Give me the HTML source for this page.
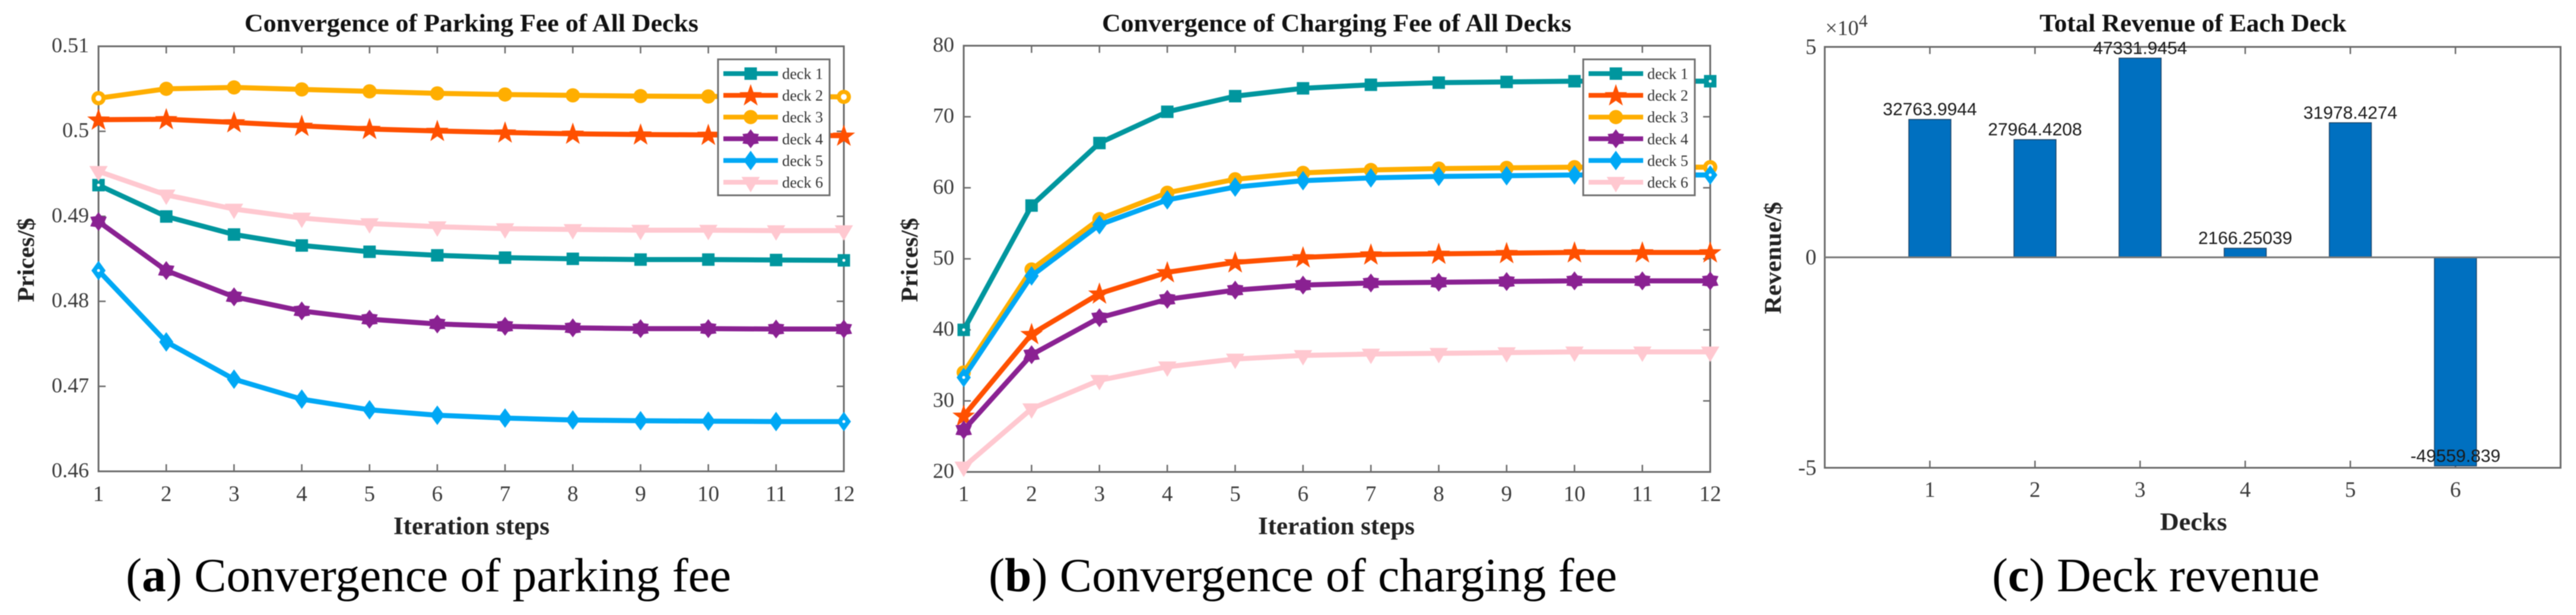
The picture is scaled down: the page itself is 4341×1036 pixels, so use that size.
<!DOCTYPE html>
<html lang="en">
<head>
<meta charset="utf-8">
<title>Convergence of parking fee, charging fee and deck revenue</title>
<style>
html,body{margin:0;padding:0;background:#fff;}
svg{display:block;filter:blur(0.7px);}
text{font-family:"Liberation Serif",serif;}
</style>
</head>
<body>
<svg id="figure" xmlns="http://www.w3.org/2000/svg" width="4341" height="1036" viewBox="0 0 4341 1036">
<rect x="0" y="0" width="4341" height="1036" fill="#ffffff"/>
</svg>
<script>
/* ---------- shared categories ---------- */
const iterationSteps = [1,2,3,4,5,6,7,8,9,10,11,12];
const deckNames = ['deck 1','deck 2','deck 3','deck 4','deck 5','deck 6'];

/* ---------- panel (a) parking fee ---------- */
const parkingDeck1 = [0.49367,0.48998,0.48786,0.48657,0.48583,0.48541,0.48514,0.48500,0.48491,0.48491,0.48486,0.48482];
const parkingDeck2 = [0.50137,0.50142,0.50105,0.50064,0.50027,0.50004,0.49985,0.49971,0.49962,0.49958,0.49953,0.49948];
const parkingDeck3 = [0.50390,0.50500,0.50516,0.50493,0.50470,0.50446,0.50433,0.50423,0.50414,0.50410,0.50410,0.50405];
const parkingDeck4 = [0.48938,0.48362,0.48053,0.47887,0.47790,0.47734,0.47707,0.47688,0.47679,0.47679,0.47674,0.47674];
const parkingDeck5 = [0.48362,0.47522,0.47084,0.46849,0.46724,0.46660,0.46627,0.46604,0.46595,0.46590,0.46586,0.46586];
const parkingDeck6 = [0.49529,0.49252,0.49086,0.48980,0.48915,0.48878,0.48855,0.48846,0.48837,0.48837,0.48832,0.48832];
const parkingTicks = [0.46,0.47,0.48,0.49,0.5,0.51];
const parkingTickLabels = ['0.46','0.47','0.48','0.49','0.5','0.51'];

/* ---------- panel (b) charging fee ---------- */
const chargingDeck1 = [40.0,57.5,66.3,70.7,72.9,74.0,74.5,74.8,74.9,75.0,75.0,75.0];
const chargingDeck2 = [27.9,39.4,45.1,48.1,49.5,50.2,50.6,50.7,50.8,50.9,50.9,50.9];
const chargingDeck3 = [34.0,48.5,55.6,59.3,61.2,62.1,62.5,62.7,62.8,62.9,62.9,62.9];
const chargingDeck4 = [25.9,36.5,41.7,44.3,45.6,46.3,46.6,46.7,46.8,46.9,46.9,46.9];
const chargingDeck5 = [33.3,47.6,54.8,58.3,60.1,61.0,61.4,61.6,61.7,61.8,61.8,61.8];
const chargingDeck6 = [20.7,28.9,32.9,34.8,35.9,36.4,36.6,36.7,36.8,36.9,36.9,36.9];
const chargingTicks = [20,30,40,50,60,70,80];
const chargingTickLabels = ['20','30','40','50','60','70','80'];

/* ---------- panel (c) revenue ---------- */
const revenueDecks = [1,2,3,4,5,6];
const revenueValues = [32763.9944,27964.4208,47331.9454,2166.25039,31978.4274,-49559.839];
const revenueTicks = [-50000,0,50000];
const revenueTickLabels = ['-5','0','5'];

/* ---------- drawing helpers ---------- */
const NS = 'http://www.w3.org/2000/svg';
const svg = document.getElementById('figure');
const AXIS = '#6a6a6a';
const LABEL = '#3a3a3a';
const COLORS = ['#00969e','#ff5000','#ffae00','#8a2192','#00a8f5','#ffc8d0'];
const SHAPES = ['square','star','circle','hexagram','diamond','triangle'];

function make(tag, attrs, parent, content) {
  const node = document.createElementNS(NS, tag);
  for (const k in attrs) node.setAttribute(k, attrs[k]);
  if (content !== undefined) node.textContent = content;
  parent.appendChild(node);
  return node;
}
function polarPoints(cx, cy, count, outer, inner) {
  const pts = [];
  for (let i = 0; i < count * 2; i++) {
    const r = i % 2 ? inner : outer;
    const a = -Math.PI / 2 + i * Math.PI / count;
    pts.push((cx + r * Math.cos(a)).toFixed(1) + ',' + (cy + r * Math.sin(a)).toFixed(1));
  }
  return pts.join(' ');
}
function drawMarker(shape, color, cx, cy, parent, hollow) {
  let m;
  if (shape === 'square') {
    m = make('rect', {x: cx - 10.5, y: cy - 10.5, width: 21, height: 21, fill: color}, parent);
  } else if (shape === 'circle') {
    m = make('circle', {cx: cx, cy: cy, r: 12, fill: color}, parent);
  } else if (shape === 'star') {
    m = make('polygon', {points: polarPoints(cx, cy + 1, 5, 20, 8), fill: color}, parent);
  } else if (shape === 'hexagram') {
    m = make('polygon', {points: polarPoints(cx, cy, 6, 16, 10.5), fill: color}, parent);
  } else if (shape === 'diamond') {
    m = make('polygon', {points: [cx, cy - 16.5, cx + 12, cy, cx, cy + 16.5, cx - 12, cy].join(' '), fill: color}, parent);
  } else {
    m = make('polygon', {points: [cx - 15.5, cy - 9, cx + 15.5, cy - 9, cx, cy + 17].join(' '), fill: color}, parent);
  }
  if (hollow) {
    const holeRadius = shape === 'circle' ? 5 : 2.5;
    const hole = make('circle', {cx: cx, cy: cy, r: holeRadius, fill: '#ffffff'}, parent);
    
    
  }
  return m;
}
function sized(x, y, str, size, length, extra, parent) {
  const attrs = Object.assign({x: x, y: y, 'font-size': size, textLength: length, lengthAdjust: 'spacingAndGlyphs', fill: '#111111'}, extra || {});
  return make('text', attrs, parent, str);
}

/* ---------- line panel ---------- */
function drawLinePanel(cfg) {
  const g = make('g', {}, svg);
  
  
  const xOf = v => cfg.left + (v - iterationSteps[0]) / (iterationSteps[iterationSteps.length - 1] - iterationSteps[0]) * (cfg.right - cfg.left);
  const yOf = v => cfg.bottom - (v - cfg.ticks[0]) / (cfg.ticks[cfg.ticks.length - 1] - cfg.ticks[0]) * (cfg.bottom - cfg.top);

  const frame = make('rect', {x: cfg.left, y: cfg.top, width: cfg.right - cfg.left, height: cfg.bottom - cfg.top, fill: 'none', stroke: AXIS, 'stroke-width': 3}, g);
  
  

  iterationSteps.forEach(v => {
    const x = xOf(v);
    const bottomTick = make('line', {x1: x, x2: x, y1: cfg.bottom, y2: cfg.bottom - 12, stroke: AXIS, 'stroke-width': 2.5}, g);
    
    
    const topTick = make('line', {x1: x, x2: x, y1: cfg.top, y2: cfg.top + 12, stroke: AXIS, 'stroke-width': 2.5}, g);
    
    
    const label = make('text', {x: x, y: 844, 'font-size': 37, 'text-anchor': 'middle', fill: LABEL}, g, String(v));
    
    
  });
  cfg.ticks.forEach((v, i) => {
    const y = yOf(v);
    const leftTick = make('line', {x1: cfg.left, x2: cfg.left + 12, y1: y, y2: y, stroke: AXIS, 'stroke-width': 2.5}, g);
    
    
    const rightTick = make('line', {x1: cfg.right, x2: cfg.right - 12, y1: y, y2: y, stroke: AXIS, 'stroke-width': 2.5}, g);
    
    
    const label = make('text', {x: cfg.left - 16, y: y + 10, 'font-size': 36, 'text-anchor': 'end', fill: LABEL}, g, cfg.tickLabels[i]);
    
    
  });

  cfg.series.forEach((values, s) => {
    const sg = make('g', {}, g);
    
    
    const pts = values.map((v, i) => xOf(iterationSteps[i]).toFixed(1) + ',' + yOf(v).toFixed(1)).join(' ');
    const line = make('polyline', {points: pts, fill: 'none', stroke: COLORS[s], 'stroke-width': 8.5, 'stroke-linejoin': 'round'}, sg);
    
    
    values.forEach((v, i) => {
      const isEnd = i === 0 || i === values.length - 1;
      const hollow = isEnd && (SHAPES[s] === 'circle' || SHAPES[s] === 'diamond' || SHAPES[s] === 'square');
      const marker = drawMarker(SHAPES[s], COLORS[s], xOf(iterationSteps[i]), yOf(v), sg, hollow);
      
      
    });
  });

  /* legend */
  const lg = make('g', {}, g);
  
  
  const lx = cfg.left + 1044;
  const box = make('rect', {x: lx, y: 100, width: 188, height: 229, fill: '#ffffff', stroke: '#707070', 'stroke-width': 3}, lg);
  
  
  deckNames.forEach((name, s) => {
    const ly = 124 + s * 36.6;
    const swatch = make('line', {x1: lx + 9, x2: lx + 101, y1: ly, y2: ly, stroke: COLORS[s], 'stroke-width': 8}, lg);
    
    
    const mk = drawMarker(SHAPES[s], COLORS[s], lx + 55, ly, lg, false);
    
    
    const t = sized(lx + 108, ly + 9, name, 26, 69, {fill: '#333333'}, lg);
    
    
  });

  const title = sized(cfg.titleX, 53, cfg.title, 42, cfg.titleW, {'font-weight': 'bold'}, g);
  
  
  const xt = sized(cfg.xTitleX, 900, 'Iteration steps', 42, cfg.xTitleW, {'font-weight': 'bold', fill: '#222222'}, g);
  
  
  const yt = sized(0, 0, 'Prices/$', 40, 142, {'font-weight': 'bold', fill: '#222222', transform: 'translate(' + cfg.yTitleX + ',509) rotate(-90)'}, g);
  
  
  const cap = make('text', {x: cfg.capX, y: 996, 'font-size': 80, textLength: cfg.capW, lengthAdjust: 'spacingAndGlyphs', fill: '#000000'}, g);
  
  
  make('tspan', {}, cap, '(');
  make('tspan', {'font-weight': 'bold'}, cap, cfg.capLetter);
  make('tspan', {}, cap, ') ' + cfg.capText);
}

drawLinePanel({
  name: 'parking-fee-chart', left: 166, right: 1422, top: 78, bottom: 794,
  ticks: parkingTicks, tickLabels: parkingTickLabels,
  series: [parkingDeck1, parkingDeck2, parkingDeck3, parkingDeck4, parkingDeck5, parkingDeck6],
  title: 'Convergence of Parking Fee of All Decks', titleX: 412, titleW: 765,
  xTitleX: 663, xTitleW: 263, yTitleX: 57,
  capX: 212, capW: 1020, capLetter: 'a', capText: 'Convergence of parking fee'
});
drawLinePanel({
  name: 'charging-fee-chart', left: 1624, right: 2882, top: 77, bottom: 795,
  ticks: chargingTicks, tickLabels: chargingTickLabels,
  series: [chargingDeck1, chargingDeck2, chargingDeck3, chargingDeck4, chargingDeck5, chargingDeck6],
  title: 'Convergence of Charging Fee of All Decks', titleX: 1857, titleW: 791,
  xTitleX: 2120, xTitleW: 264, yTitleX: 1546,
  capX: 1666, capW: 1059, capLetter: 'b', capText: 'Convergence of charging fee'
});

/* ---------- bar panel ---------- */
(function drawBarPanel() {
  const left = 3075, right = 4315, top = 79, bottom = 788;
  const g = make('g', {}, svg);
  
  
  const xOf = v => left + v / (revenueDecks.length + 1) * (right - left);
  const yOf = v => bottom - (v - revenueTicks[0]) / (revenueTicks[revenueTicks.length - 1] - revenueTicks[0]) * (bottom - top);

  const frame = make('rect', {x: left, y: top, width: right - left, height: bottom - top, fill: 'none', stroke: AXIS, 'stroke-width': 3}, g);
  
  

  revenueTicks.forEach((v, i) => {
    const y = yOf(v);
    const leftTick = make('line', {x1: left, x2: left + 12, y1: y, y2: y, stroke: AXIS, 'stroke-width': 2.5}, g);
    
    
    const rightTick = make('line', {x1: right, x2: right - 12, y1: y, y2: y, stroke: AXIS, 'stroke-width': 2.5}, g);
    
    
    const label = make('text', {x: left - 14, y: y + 12, 'font-size': 37, 'text-anchor': 'end', fill: LABEL}, g, revenueTickLabels[i]);
    
    
  });

  revenueDecks.forEach((d, i) => {
    const cx = xOf(d);
    const bottomTick = make('line', {x1: cx, x2: cx, y1: bottom, y2: bottom - 12, stroke: AXIS, 'stroke-width': 2.5}, g);
    
    
    const topTick = make('line', {x1: cx, x2: cx, y1: top, y2: top + 12, stroke: AXIS, 'stroke-width': 2.5}, g);
    
    
    const tickLabel = make('text', {x: cx, y: 837, 'font-size': 37, 'text-anchor': 'middle', fill: LABEL}, g, String(d));
    
    

    const v = revenueValues[i];
    const y0 = yOf(0), y1 = yOf(v);
    const bw = (xOf(1) - xOf(0)) * 0.4;
    const bar = make('rect', {x: cx - bw / 2, y: Math.min(y0, y1), width: bw, height: Math.abs(y1 - y0), fill: '#0070c0', stroke: '#1c4468', 'stroke-width': 1.5}, g);
    
    
  });

  const zero = make('line', {x1: left, x2: right, y1: yOf(0), y2: yOf(0), stroke: '#777777', 'stroke-width': 3}, g);
  
  

  revenueDecks.forEach((d, i) => {
    const v = revenueValues[i];
    const valueLabel = make('text', {x: xOf(d), y: yOf(v) - 7, 'font-size': 30, 'text-anchor': 'middle', fill: '#1a1a1a', style: 'font-family:"Liberation Sans",sans-serif'}, g, String(v));
    
    
  });

  const exponent = make('text', {x: 3076, y: 59, 'font-size': 36, fill: LABEL}, g);
  
  
  make('tspan', {}, exponent, '\u00d710');
  make('tspan', {'font-size': 30, dy: -14}, exponent, '4');

  const title = sized(3437, 53, 'Total Revenue of Each Deck', 42, 517, {'font-weight': 'bold'}, g);
  
  
  const xt = sized(3640, 893, 'Decks', 42, 113, {'font-weight': 'bold', fill: '#222222'}, g);
  
  
  const yt = sized(0, 0, 'Revenue/$', 40, 189, {'font-weight': 'bold', fill: '#222222', transform: 'translate(3001,529) rotate(-90)'}, g);
  
  
  const cap = make('text', {x: 3357, y: 996, 'font-size': 80, textLength: 552, lengthAdjust: 'spacingAndGlyphs', fill: '#000000'}, g);
  
  
  make('tspan', {}, cap, '(');
  make('tspan', {'font-weight': 'bold'}, cap, 'c');
  make('tspan', {}, cap, ') Deck revenue');
})();
</script>
</body>
</html>
